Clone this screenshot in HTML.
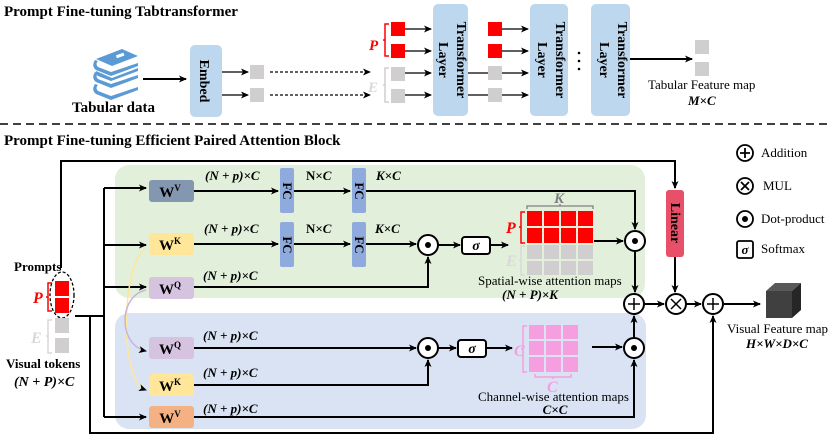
<!DOCTYPE html>
<html><head><meta charset="utf-8"><style>
html,body{margin:0;padding:0;background:#fff}
svg{display:block}
text{font-family:"Liberation Serif",serif}
.b{font-weight:bold}
.m{font-weight:bold;font-style:italic}
</style></head><body>
<svg width="830" height="437" viewBox="0 0 830 437" xmlns="http://www.w3.org/2000/svg">
<defs>
<marker id="a" markerWidth="8" markerHeight="8" refX="7" refY="4" orient="auto" markerUnits="userSpaceOnUse"><path d="M0,0.5 L8,4 L0,7.5 L2,4z" fill="#000"/></marker>
</defs>
<!-- Top section -->
<text x="4" y="16" class="b" font-size="15">Prompt Fine-tuning Tabtransformer</text>
<!-- books -->
<g fill="#5b9bd5">
<path d="M96,59 L122,49 L138,56 L112,66 Z"/>
<path d="M95,60 Q91,66 96,70 L111,76 L138,66 L138,63 L111,72 L98,67 Q95,64 98,61 Z"/>
<path d="M96,71 L112,78 L138,68 L138,71 L111,81 L98,76 Q95,74 96,71 Z"/>
<path d="M95,72 Q91,78 96,82 L111,88 L138,78 L138,75 L111,84 L98,79 Q95,76 98,73 Z"/>
<path d="M95,84 Q91,90 96,94 L111,100 L138,90 L138,87 L111,96 L98,91 Q95,88 98,85 Z"/>
</g>
<rect x="116" y="54" width="8" height="3" fill="#fff" transform="rotate(-20 120 55)"/>
<text x="72" y="112" class="b" font-size="15">Tabular data</text>
<line x1="143" y1="79" x2="186" y2="79" stroke="#000" stroke-width="2" marker-end="url(#a)"/>
<rect x="190" y="45" width="32" height="72" rx="5" fill="#bdd7ee"/>
<text transform="translate(200,81) rotate(90)" text-anchor="middle" class="b" font-size="14">Embed</text>
<g stroke="#000" stroke-width="1.2" fill="none">
<line x1="222" y1="72" x2="248" y2="72" marker-end="url(#a)"/>
<line x1="222" y1="95" x2="248" y2="95" marker-end="url(#a)"/>
<line x1="270" y1="72" x2="370" y2="72" stroke-dasharray="3,2" marker-end="url(#a)"/>
<line x1="270" y1="95" x2="370" y2="95" stroke-dasharray="3,2" marker-end="url(#a)"/>
<line x1="404" y1="29" x2="431" y2="29" marker-end="url(#a)"/>
<line x1="404" y1="51" x2="431" y2="51" marker-end="url(#a)"/>
<line x1="404" y1="73" x2="431" y2="73" marker-end="url(#a)"/>
<line x1="404" y1="95" x2="431" y2="95" marker-end="url(#a)"/>
<line x1="468" y1="73" x2="528" y2="73" marker-end="url(#a)"/>
<line x1="468" y1="95" x2="528" y2="95" marker-end="url(#a)"/>
<line x1="501" y1="29" x2="528" y2="29" marker-end="url(#a)"/>
<line x1="501" y1="51" x2="528" y2="51" marker-end="url(#a)"/>
<line x1="630" y1="59" x2="692" y2="59" stroke-width="2" marker-end="url(#a)"/>
</g>
<rect x="250" y="65" width="14" height="14" fill="#d0cece"/>
<rect x="250" y="88" width="14" height="14" fill="#d0cece"/>
<rect x="391" y="22" width="14" height="14" fill="#f00"/>
<rect x="391" y="44" width="14" height="14" fill="#f00"/>
<rect x="391" y="67" width="14" height="14" fill="#d0cece"/>
<rect x="391" y="89" width="14" height="14" fill="#d0cece"/>
<path d="M389,24 h-4 v32 h4 M385,40 h-2" stroke="#f00" stroke-width="1.5" fill="none"/>
<path d="M389,68 h-4 v34 h4 M385,85 h-2" stroke="#d0cece" stroke-width="1.5" fill="none"/>
<text x="369" y="50" class="m" style="font-size:15px" fill="#f00">P</text>
<text x="368" y="92" class="m" style="font-size:15px" fill="#d9d9d9">E</text>
<rect x="488" y="22" width="14" height="14" fill="#f00"/>
<rect x="488" y="44" width="14" height="14" fill="#f00"/>
<rect x="488" y="66" width="14" height="14" fill="#d0cece"/>
<rect x="488" y="88" width="14" height="14" fill="#d0cece"/>
<g fill="#bdd7ee">
<rect x="433" y="4" width="35" height="112" rx="5"/>
<rect x="530" y="4" width="38" height="112" rx="5"/>
<rect x="591" y="4" width="39" height="112" rx="5"/>
</g>
<g class="b" font-size="14">
<text transform="translate(449,60) rotate(90)" text-anchor="middle"><tspan x="0" dy="-8">Transformer</tspan><tspan x="0" dy="18">Layer</tspan></text>
<text transform="translate(548,60) rotate(90)" text-anchor="middle"><tspan x="0" dy="-8">Transformer</tspan><tspan x="0" dy="18">Layer</tspan></text>
<text transform="translate(610,60) rotate(90)" text-anchor="middle"><tspan x="0" dy="-8">Transformer</tspan><tspan x="0" dy="18">Layer</tspan></text>
</g>
<g fill="#000"><circle cx="579" cy="53" r="1.3"/><circle cx="579" cy="61" r="1.3"/><circle cx="579" cy="69" r="1.3"/></g>
<rect x="695" y="40" width="14" height="14" fill="#d0cece"/>
<rect x="695" y="62" width="14" height="14" fill="#d0cece"/>
<text x="648" y="89" font-size="13">Tabular Feature map</text>
<text x="688" y="105" class="m" font-size="13">M×C</text>
<line x1="0" y1="124" x2="830" y2="124" stroke="#000" stroke-width="1.5" stroke-dasharray="8,5"/>

<!-- Bottom section -->
<text x="4" y="145" class="b" font-size="15">Prompt Fine-tuning Efficient Paired Attention Block</text>
<rect x="115" y="165" width="530" height="133" rx="14" fill="#e2efda"/>
<rect x="115" y="313" width="531" height="116" rx="14" fill="#dae3f3"/>

<g stroke="#000" stroke-width="2" fill="none">
<path d="M61,268 V161 H675 V188" marker-end="url(#a)"/>
<path d="M75,316 H104"/>
<path d="M104,188 V417"/>
<path d="M104,188 H146" marker-end="url(#a)"/>
<path d="M104,245 H146" marker-end="url(#a)"/>
<path d="M104,287 H146" marker-end="url(#a)"/>
<path d="M104,417 H146" marker-end="url(#a)"/>
<path d="M90,316 V433 H713 V316" marker-end="url(#a)"/>
<path d="M194,191 H278" marker-end="url(#a)"/>
<path d="M294,191 H350" marker-end="url(#a)"/>
<path d="M366,191 H635 V229" marker-end="url(#a)"/>
<path d="M194,244 H278" marker-end="url(#a)"/>
<path d="M294,244 H350" marker-end="url(#a)"/>
<path d="M366,244 H416" marker-end="url(#a)"/>
<path d="M194,287 H428 V257" marker-end="url(#a)"/>
<path d="M438,245 H460" marker-end="url(#a)"/>
<path d="M490,245 H508" marker-end="url(#a)"/>
<path d="M594,241 H623" marker-end="url(#a)"/>
<path d="M635,252 V292" marker-end="url(#a)"/>
<path d="M194,348 H416" marker-end="url(#a)"/>
<path d="M194,385 H428 V360" marker-end="url(#a)"/>
<path d="M438,348 H456" marker-end="url(#a)"/>
<path d="M486,348 H512" marker-end="url(#a)"/>
<path d="M592,347 H622" marker-end="url(#a)"/>
<path d="M194,417 H634 V360" marker-end="url(#a)"/>
<path d="M634,337 V316" marker-end="url(#a)"/>
<path d="M645,304 H664" marker-end="url(#a)"/>
<path d="M675,257 V292" marker-end="url(#a)"/>
<path d="M686,304 H701" marker-end="url(#a)"/>
<path d="M724,304 H760" marker-end="url(#a)"/>
</g>
<!-- curves -->
<path d="M146,249 C122,260 118,380 146,390" stroke="#ffe699" stroke-width="1.5" fill="none" marker-end="url(#a)"/>
<path d="M146,290 C118,296 118,345 146,351" stroke="#c9b3dc" stroke-width="1.5" fill="none" marker-end="url(#a)"/>

<!-- prompts -->
<text x="14" y="271" class="b" font-size="13">Prompts</text>
<rect x="55" y="281" width="14" height="15" fill="#f00"/>
<rect x="55" y="298" width="14" height="15" fill="#f00"/>
<ellipse cx="62" cy="295" rx="12" ry="23" stroke="#000" stroke-width="1.3" stroke-dasharray="3,2" fill="none"/>
<path d="M52,283 h-4 v28 h4 M48,297 h-2" stroke="#f00" stroke-width="1.5" fill="none"/>
<text x="33" y="303" class="m" style="font-size:16px" fill="#f00">P</text>
<rect x="55" y="318" width="14" height="15" fill="#d0cece"/>
<rect x="55" y="338" width="14" height="15" fill="#d0cece"/>
<path d="M52,320 h-4 v33 h4 M48,336 h-2" stroke="#d9d9d9" stroke-width="1.5" fill="none"/>
<text x="31" y="343" class="m" style="font-size:16px" fill="#d9d9d9">E</text>
<text x="6" y="368" class="b" font-size="13">Visual tokens</text>
<text x="14" y="386" class="m" font-size="14">(N + P)×C</text>

<!-- W boxes -->
<rect x="149" y="180" width="45" height="22" rx="3" fill="#8497b0"/>
<rect x="149" y="233" width="45" height="22" rx="3" fill="#ffe699"/>
<rect x="149" y="277" width="45" height="22" rx="3" fill="#d5c3e0"/>
<rect x="149" y="337" width="45" height="22" rx="3" fill="#d5c3e0"/>
<rect x="149" y="374" width="45" height="22" rx="3" fill="#ffe699"/>
<rect x="149" y="406" width="45" height="22" rx="3" fill="#f4b183"/>
<g class="b" font-size="15" text-anchor="middle">
<text x="170" y="197">W<tspan font-size="9" dy="-6">V</tspan></text>
<text x="170" y="250">W<tspan font-size="9" dy="-6">K</tspan></text>
<text x="170" y="294">W<tspan font-size="9" dy="-6">Q</tspan></text>
<text x="170" y="354">W<tspan font-size="9" dy="-6">Q</tspan></text>
<text x="170" y="391">W<tspan font-size="9" dy="-6">K</tspan></text>
<text x="170" y="423">W<tspan font-size="9" dy="-6">V</tspan></text>
</g>
<g class="m" font-size="13">
<text x="205" y="180">(N + p)×C</text>
<text x="204" y="233">(N + p)×C</text>
<text x="203" y="280">(N + p)×C</text>
<text x="203" y="340">(N + p)×C</text>
<text x="203" y="377">(N + p)×C</text>
<text x="203" y="413">(N + p)×C</text>
<text x="306" y="180" font-style="normal">N×<tspan font-style="italic">C</tspan></text>
<text x="306" y="233" font-style="normal">N×<tspan font-style="italic">C</tspan></text>
<text x="376" y="180">K×C</text>
<text x="375" y="233">K×C</text>
</g>
<!-- FC -->
<g fill="#8faadc">
<rect x="280" y="168" width="14" height="45" rx="2"/>
<rect x="280" y="222" width="14" height="45" rx="2"/>
<rect x="352" y="168" width="14" height="45" rx="2"/>
<rect x="352" y="222" width="14" height="45" rx="2"/>
</g>
<g class="b" font-size="13" text-anchor="middle">
<text transform="translate(283,191) rotate(90)">FC</text>
<text transform="translate(283,245) rotate(90)">FC</text>
<text transform="translate(355,191) rotate(90)">FC</text>
<text transform="translate(355,245) rotate(90)">FC</text>
</g>
<!-- operators -->
<g stroke="#000" stroke-width="2" fill="#fff">
<circle cx="428" cy="245" r="10"/>
<circle cx="635" cy="241" r="10"/>
<circle cx="428" cy="348" r="10"/>
<circle cx="634" cy="348" r="10"/>
<circle cx="634" cy="304" r="10"/>
<circle cx="676" cy="304" r="10"/>
<circle cx="713" cy="304" r="10"/>
<rect x="462" y="237" width="28" height="17" rx="3"/>
<rect x="458" y="340" width="28" height="17" rx="3"/>
</g>
<g fill="#000"><circle cx="428" cy="245" r="3"/><circle cx="635" cy="241" r="3"/><circle cx="428" cy="348" r="3"/><circle cx="634" cy="348" r="3"/></g>
<g stroke="#000" stroke-width="1.5"><path d="M628,304 h12 M634,298 v12 M707,304 h12 M713,298 v12 M671,299 l10,10 M681,299 l-10,10"/></g>
<text x="476" y="250" text-anchor="middle" class="m" font-size="14">σ</text>
<text x="472" y="353" text-anchor="middle" class="m" font-size="14">σ</text>
<!-- Linear -->
<rect x="666" y="190" width="18" height="67" rx="3" fill="#e8506a"/>
<text transform="translate(671,223) rotate(90)" text-anchor="middle" class="b" font-size="14">Linear</text>
<!-- spatial matrix -->
<g fill="#f00">
<rect x="527" y="211" width="15" height="15"/><rect x="544" y="211" width="15" height="15"/><rect x="561" y="211" width="15" height="15"/><rect x="578" y="211" width="15" height="15"/>
<rect x="527" y="228" width="15" height="15"/><rect x="544" y="228" width="15" height="15"/><rect x="561" y="228" width="15" height="15"/><rect x="578" y="228" width="15" height="15"/>
</g>
<g fill="#d0cece">
<rect x="527" y="245" width="15" height="14"/><rect x="544" y="245" width="15" height="14"/><rect x="561" y="245" width="15" height="14"/><rect x="578" y="245" width="15" height="14"/>
<rect x="527" y="261" width="15" height="14"/><rect x="544" y="261" width="15" height="14"/><rect x="561" y="261" width="15" height="14"/><rect x="578" y="261" width="15" height="14"/>
</g>
<path d="M527,209 v-3 h66 v3 M560,206 v-2" stroke="#7f7f7f" stroke-width="1.3" fill="none"/>
<text x="554" y="203" class="m" style="font-size:15px" fill="#7f7f7f">K</text>
<path d="M525,212 h-4 v31 h4 M521,227 h-2" stroke="#f00" stroke-width="1.5" fill="none"/>
<text x="506" y="233" class="m" style="font-size:16px" fill="#f00">P</text>
<path d="M525,246 h-4 v29 h4 M521,260 h-2" stroke="#d9d9d9" stroke-width="1.5" fill="none"/>
<text x="506" y="266" class="m" style="font-size:16px" fill="#d9d9d9">E</text>
<text x="478" y="285" font-size="13">Spatial-wise attention maps</text>
<text x="530" y="299" text-anchor="middle" class="m" font-size="13">(N + P)×K</text>
<!-- channel matrix -->
<g fill="#f59ee0">
<rect x="529" y="325" width="15" height="14"/><rect x="546" y="325" width="15" height="14"/><rect x="563" y="325" width="15" height="14"/>
<rect x="529" y="341" width="15" height="14"/><rect x="546" y="341" width="15" height="14"/><rect x="563" y="341" width="15" height="14"/>
<rect x="529" y="357" width="15" height="15"/><rect x="546" y="357" width="15" height="15"/><rect x="563" y="357" width="15" height="15"/>
</g>
<path d="M527,326 h-4 v46 h4 M523,349 h-2" stroke="#f59ee0" stroke-width="1.5" fill="none"/>
<text x="514" y="356" class="m" style="font-size:16px" fill="#f59ee0">C</text>
<path d="M535,374 v3 h36 v-3 M553,377 v2" stroke="#f59ee0" stroke-width="1.5" fill="none"/>
<text x="547" y="392" class="m" style="font-size:16px" fill="#f59ee0">C</text>
<text x="478" y="401" font-size="13">Channel-wise attention maps</text>
<text x="555" y="414" text-anchor="middle" class="m" font-size="13">C×C</text>
<!-- cube -->
<polygon points="766,291 775,283 801,283 792,291" fill="#595959"/>
<polygon points="792,291 801,283 801,310 792,318" fill="#262626"/>
<rect x="766" y="291" width="26" height="27" fill="#404040"/>
<text x="727" y="333" font-size="13">Visual Feature map</text>
<text x="746" y="348" class="m" font-size="13">H×W×D×C</text>
<!-- legend -->
<g stroke="#000" stroke-width="1.8" fill="none">
<circle cx="745" cy="153" r="8"/><circle cx="745" cy="186" r="8"/><circle cx="745" cy="219" r="8"/>
<rect x="737" y="241" width="16" height="17" rx="2"/>
<path d="M740,153 h10 M745,148 v10 M741,182 l8,8 M749,182 l-8,8"/>
</g>
<circle cx="745" cy="219" r="3" fill="#000"/>
<text x="745" y="254" text-anchor="middle" class="m" font-size="13">σ</text>
<g font-size="13">
<text x="761" y="157">Addition</text>
<text x="763" y="190">MUL</text>
<text x="761" y="223">Dot-product</text>
<text x="761" y="253">Softmax</text>
</g>
</svg>
</body></html>
